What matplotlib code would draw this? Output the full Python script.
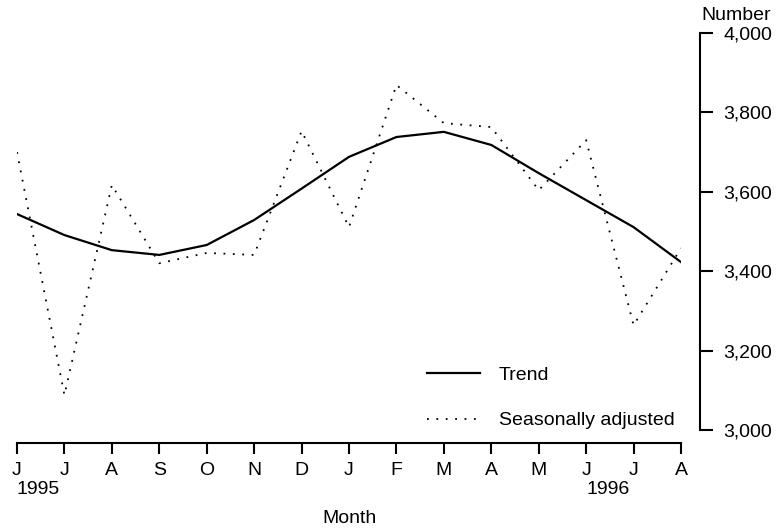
import matplotlib
matplotlib.use("Agg")
import matplotlib.pyplot as plt
from matplotlib.transforms import blended_transform_factory

months = ["J", "J", "A", "S", "O", "N", "D", "J", "F", "M", "A", "M", "J", "J", "A"]
years = {0: "1995", 12: "1996"}

trend = [3544, 3491, 3453, 3441, 3466, 3529, 3608, 3688, 3738, 3751,
         3718, 3647, 3579, 3511, 3423]
seas_adj = [3700, 3088, 3617, 3420, 3446, 3441, 3753, 3511, 3869, 3773,
            3763, 3604, 3730, 3264, 3458]

y_ticks = [3000, 3200, 3400, 3600, 3800, 4000]

plt.rcParams["font.family"] = ["Liberation Sans", "DejaVu Sans"]
plt.rcParams["font.size"] = 14

W, H = 777, 529
fig = plt.figure(figsize=(W / 100, H / 100), dpi=100)
ax = fig.add_axes([17 / W, 1 - 443 / H, (681 - 17) / W, (443 - 33) / H])

x = list(range(len(months)))
ax.plot(x, trend, color="black", lw=1.6, label="Trend")
ax.plot(x, seas_adj, color="black", lw=1.3, linestyle=(0, (1, 4.2)),
        label="Seasonally adjusted")

ax.set_xlim(0, len(months) - 1)
ax.set_ylim(3000 - 13 * 1000 / 397, 4000)

for side in ["top", "left"]:
    ax.spines[side].set_visible(False)
ax.spines["bottom"].set_linewidth(1.5)
ax.spines["right"].set_linewidth(1.5)
ax.spines["right"].set_position(("axes", (700 - 17) / (681 - 17)))
ax.spines["right"].set_bounds(3000, 4000)

ax.set_xticks(x)
ax.set_xticklabels(months)
ax.tick_params(axis="x", direction="out", length=8, width=1.5, pad=6)

ax.yaxis.tick_right()
ax.set_yticks(y_ticks)
ax.set_yticklabels([f"{v:,}" for v in y_ticks])
ax.tick_params(axis="y", direction="out", length=9, width=1.5, pad=8)

trans = blended_transform_factory(ax.transData, ax.transAxes)
for pos, yr in years.items():
    ax.text(pos, -0.093, yr, transform=trans, ha="left", va="top")

ax.set_xlabel("Month", labelpad=22)
fig.text(771 / W, 1 - 16 / H, "Number", ha="right", va="center")

ax.legend(frameon=False, loc="upper left",
          bbox_to_anchor=(427 / W, 1 - 366 / H), bbox_transform=fig.transFigure,
          borderpad=0, borderaxespad=0, handlelength=2.7, handletextpad=1.0,
          labelspacing=1.45)

fig.savefig("out.png", dpi=100)
